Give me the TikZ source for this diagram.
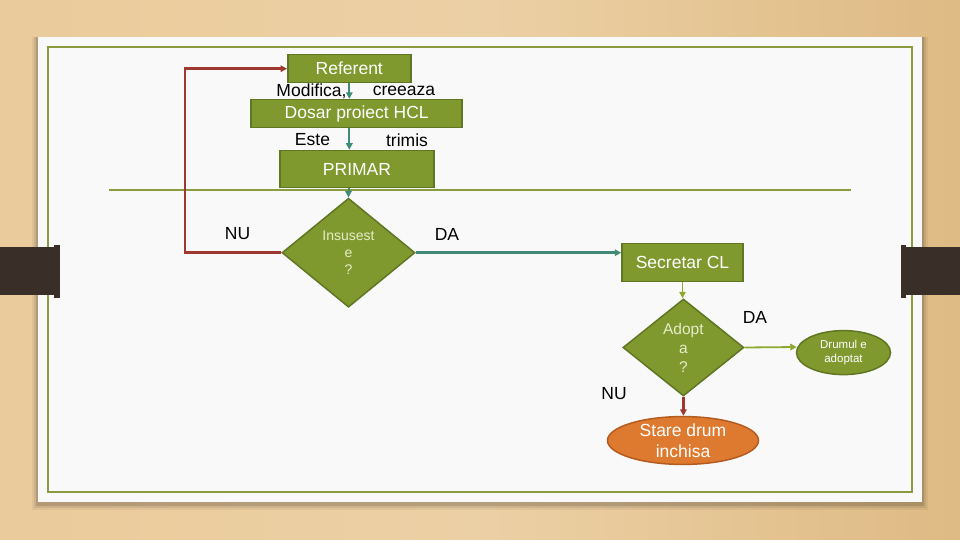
\documentclass[tikz,border=0pt]{standalone}
\usepackage{fontspec}
\setmainfont{Liberation Sans}
\usetikzlibrary{shapes.geometric,arrows.meta,calc}
\definecolor{wood}{RGB}{234,203,155}
\definecolor{woodd}{RGB}{222,186,132}
\definecolor{clipcol}{RGB}{58,46,40}
\definecolor{pagecol}{RGB}{249,249,249}
\definecolor{framecol}{RGB}{139,155,64}
\definecolor{olivef}{RGB}{127,153,46}
\definecolor{oliveb}{RGB}{96,118,34}
\definecolor{tealc}{RGB}{64,138,120}
\definecolor{lgreen}{RGB}{140,170,50}
\definecolor{rline}{RGB}{160,56,50}
\definecolor{orangef}{RGB}{222,122,48}
\definecolor{orangeb}{RGB}{180,92,32}
\definecolor{pale}{RGB}{230,236,200}
\begin{document}
\begin{tikzpicture}[x=1pt,y=-1pt,
  box/.style={draw=oliveb,line width=1.5pt,fill=olivef,text=white,inner sep=0pt,
    font=\fontsize{17.5}{19}\selectfont},
  dia/.style={diamond,draw=oliveb,line width=1.5pt,fill=olivef,text=pale,inner sep=0pt,
    align=center},
  ell/.style={ellipse,draw=oliveb,line width=1.5pt,fill=olivef,text=white,inner sep=0pt,align=center},
  lbl/.style={text=black,inner sep=0pt,font=\fontsize{17.5}{19}\selectfont},
  tip/.style={-{Triangle[length=6.5pt,width=6.5pt]}},
  tealarr/.style={tip,draw=tealc,line width=2.5pt},
  redarr/.style={tip,draw=rline,line width=2.5pt},
  grnarr/.style={tip,draw=lgreen,line width=1.8pt}]
\useasboundingbox (0,0) rectangle (960,540);
% background
\shade[left color=wood,right color=woodd,middle color=wood!90!white] (0,0) rectangle (960,540);
% page shadow
\foreach \i/\o in {6/0.05,4/0.08,2/0.12}{
  \fill[black,opacity=\o] (38-\i,37) rectangle (922+\i,502+\i+2);
}
\fill[pagecol] (38,37) rectangle (922,502);
\draw[framecol,line width=2pt] (48,47) rectangle (912,492);
% clips
\fill[clipcol] (0,247) rectangle (58,295);
\fill[clipcol] (54,244.5) rectangle (59.5,297.5);
\fill[clipcol] (902,247) rectangle (960,295);
\fill[clipcol] (900.5,244.5) rectangle (906,297.5);
% separator
\coordinate (sepL) at (109,190.4);
\coordinate (sepR) at (851,190.4);
\draw[framecol,line width=2pt] (sepL) -- (sepR);

% nodes
\node[box,minimum width=123pt,minimum height=28pt] (ref) at (349.3,68.7) {Referent};
\node[box,minimum width=211pt,minimum height=28pt] (dos) at (356.7,113.6) {Dosar proiect HCL};
\node[box,minimum width=154pt,minimum height=37pt] (pri) at (357,169) {PRIMAR};
\node[dia,minimum width=133pt,minimum height=109pt,
  font=\fontsize{14}{17}\selectfont] (ins) at (348.5,252.7) {Insusest\\e\\?};
\node[box,minimum width=121pt,minimum height=38pt] (sec) at (682.5,262.4) {Secretar CL};
\node[dia,minimum width=121pt,minimum height=97pt,
  font=\fontsize{15.5}{19}\selectfont] (adp) at (683.4,347.5) {Adopt\\a\\?};
\node[ell,minimum width=94pt,minimum height=44pt,
  font=\fontsize{11.5}{14.5}\selectfont] (drm) at (843.5,352.6) {Drumul e\\adoptat};
\node[ell,draw=orangeb,fill=orangef,minimum width=151pt,minimum height=45pt,
  font=\fontsize{17.5}{21}\selectfont] (sta) at (683,440.5) {Stare drum\\inchisa};

% labels
\node[lbl] (l1) at (311.5,91) {Modifica,};
\node[lbl] (l2) at (404,91) {creeaza};
\node[lbl] (l3) at (312.5,140) {Este};
\node[lbl] (l4) at (407,140) {trimis};
\node[lbl] (nu1) at (237.6,234) {NU};
\node[lbl] (da1) at (447,234) {DA};
\node[lbl] (da2) at (755,317.5) {DA};
\node[lbl] (nu2) at (614,393.6) {NU};

% connectors
\draw[tealarr,line width=2pt] (ref.south) -- (ref.south |- dos.north);
\draw[tealarr,line width=2pt] (dos.south -| ref.south) -- (ref.south |- pri.north);
\draw[tealarr,line width=2pt] (pri.south -| ins.north) -- (ins.north);
\coordinate (lpb) at (185,252.7);
\coordinate (lpt) at (185,68.7);
\draw[redarr] (ins.west) -- (lpb) -- (lpt) -- (ref.west);
\draw[tealarr] (ins.east) -- (ins.east -| sec.west);
\draw[grnarr] (sec.south) -- (sec.south |- adp.north);
\draw[grnarr] (adp.east) -- ($(drm.west)+(1,-5.6)$);
\draw[redarr] (adp.south) -- (adp.south |- sta.north);
\end{tikzpicture}
\end{document}
